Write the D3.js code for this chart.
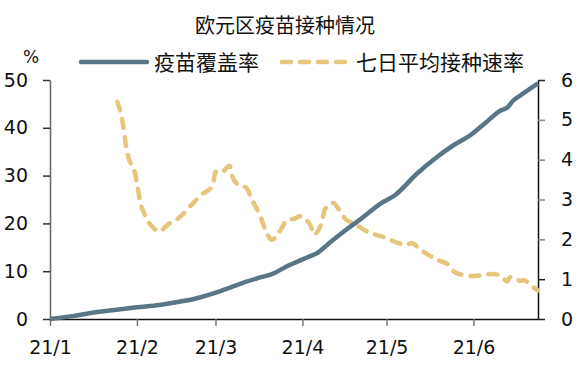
<!DOCTYPE html>
<html><head><meta charset="utf-8">
<script src="https://cdn.jsdelivr.net/npm/d3@7"></script>
<style>
body{margin:0;background:#fff;}
svg{display:block;}
text{font-family:"DejaVu Sans",Verdana,sans-serif;}
.cjk{font-family:"Noto Sans CJK SC","Noto Sans",sans-serif;}
</style></head>
<body><svg id="c" width="577" height="367"></svg>
<script>
const title = "欧元区疫苗接种情况";
const seriesNames = ["疫苗覆盖率", "七日平均接种速率"];
const xTickDates = ["2021-01-01","2021-02-01","2021-03-01","2021-04-01","2021-05-01","2021-06-01"];
const xTickLabels = ["21/1","21/2","21/3","21/4","21/5","21/6"];
const leftTicks = [0,10,20,30,40,50];
const rightTicks = [0,1,2,3,4,5,6];

const coverageDates = ["2021-01-01","2021-01-09","2021-01-16","2021-01-24","2021-02-01","2021-02-09","2021-02-16","2021-02-22","2021-02-28","2021-03-06","2021-03-12","2021-03-17","2021-03-22","2021-03-26","2021-03-31","2021-04-04","2021-04-06","2021-04-10","2021-04-16","2021-04-22","2021-04-29","2021-05-04","2021-05-12","2021-05-19","2021-05-25","2021-05-31","2021-06-05","2021-06-11","2021-06-13","2021-06-15","2021-06-18","2021-06-24"];
const coverageValues = [0,0.6,1.3,1.9,2.45,2.95,3.6,4.3,5.3,6.5,7.8,8.7,9.6,10.9,12.2,13.2,13.7,15.6,18.4,21.0,24.2,25.9,30.5,33.9,36.4,38.5,40.9,43.7,44.2,45.6,46.9,49.3];

const speedDates = ["2021-01-25","2021-01-27","2021-01-28","2021-01-29","2021-01-31","2021-02-01","2021-02-02","2021-02-04","2021-02-07","2021-02-09","2021-02-12","2021-02-16","2021-02-20","2021-02-24","2021-02-28","2021-03-01","2021-03-03","2021-03-06","2021-03-07","2021-03-09","2021-03-12","2021-03-14","2021-03-17","2021-03-19","2021-03-21","2021-03-25","2021-03-26","2021-03-30","2021-03-31","2021-04-04","2021-04-05","2021-04-08","2021-04-09","2021-04-12","2021-04-14","2021-04-16","2021-04-20","2021-04-24","2021-04-27","2021-05-01","2021-05-05","2021-05-08","2021-05-10","2021-05-13","2021-05-17","2021-05-19","2021-05-23","2021-05-25","2021-05-28","2021-06-01","2021-06-05","2021-06-08","2021-06-11","2021-06-13","2021-06-14","2021-06-18","2021-06-19","2021-06-21","2021-06-24"];
const speedValues = [5.45,4.9,4.4,4.05,3.75,3.42,3.0,2.58,2.28,2.2,2.37,2.54,2.83,3.12,3.35,3.69,3.67,3.85,3.58,3.38,3.29,3.0,2.58,2.2,1.99,2.33,2.45,2.54,2.58,2.33,2.12,2.45,2.75,2.91,2.75,2.54,2.37,2.2,2.12,2.03,1.91,1.86,1.91,1.74,1.57,1.49,1.36,1.19,1.11,1.08,1.11,1.13,1.07,0.94,1.05,0.96,0.98,0.86,0.72];

const parse = d3.utcParse("%Y-%m-%d");
const svg = d3.select("#c");
const L = 50, R = 538, T = 80, B = 319;
const blue = "#5a7686", tan = "#e5c67c";

const x = d3.scaleUtc().domain([parse("2021-01-01"), parse("2021-06-24")]).range([L, R]);
const yL = d3.scaleLinear().domain([0,50]).range([B, T]);
const yR = d3.scaleLinear().domain([0,6]).range([B, T]);

// title
svg.append("text").attr("class","cjk").attr("x",285).attr("y",33).attr("text-anchor","middle")
  .attr("font-size",20).attr("fill","#111").text(title);
// legend
svg.append("text").attr("x",31).attr("y",63).attr("text-anchor","middle").attr("font-size",17).attr("fill","#111").text("%");
svg.append("line").attr("x1",81).attr("x2",147).attr("y1",62).attr("y2",62).attr("stroke",blue).attr("stroke-width",4.5).attr("stroke-linecap","round");
svg.append("text").attr("class","cjk").attr("x",154).attr("y",70).attr("font-size",21).attr("fill","#111").text(seriesNames[0]);
svg.append("line").attr("x1",282).attr("x2",349).attr("y1",62).attr("y2",62).attr("stroke",tan).attr("stroke-width",4.5).attr("stroke-linecap","round").attr("stroke-dasharray","9,9");
svg.append("text").attr("class","cjk").attr("x",356).attr("y",70).attr("font-size",21).attr("fill","#111").text(seriesNames[1]);

// axes
const fs = 19;
const fmt = d3.format("d");
const gx = svg.append("g").attr("transform",`translate(0,${B})`)
  .call(d3.axisBottom(x).tickValues(xTickDates.map(parse)).tickFormat((d,i)=>xTickLabels[i]).tickSize(7).tickSizeOuter(0).tickPadding(15));
gx.select(".domain").attr("stroke","#111").attr("stroke-width",1.5);
gx.selectAll(".tick line").attr("stroke","#777").attr("stroke-width",1.5);
gx.selectAll("text").attr("font-size",fs).attr("fill","#111").attr("font-family","DejaVu Sans, sans-serif");

const gl = svg.append("g").attr("transform",`translate(${L},0)`)
  .call(d3.axisLeft(yL).tickValues(leftTicks).tickFormat(fmt).tickSize(7).tickSizeOuter(0).tickPadding(15));
gl.select(".domain").attr("stroke","#666").attr("stroke-width",1.5);
gl.selectAll(".tick line").attr("stroke","#333").attr("stroke-width",1.5);
gl.selectAll("text").attr("font-size",fs).attr("fill","#111").attr("font-family","DejaVu Sans, sans-serif");

const gr = svg.append("g").attr("transform",`translate(${R},0)`)
  .call(d3.axisRight(yR).tickValues(rightTicks).tickFormat(fmt).tickSize(7).tickSizeOuter(0).tickPadding(16));
gr.select(".domain").attr("stroke","#111").attr("stroke-width",1.5);
gr.selectAll(".tick line").attr("stroke",d=> (d===0||d===1||d===6)?"#222":"#888").attr("stroke-width",1.5);
gr.selectAll("text").attr("font-size",fs).attr("fill","#111").attr("font-family","DejaVu Sans, sans-serif");

// lines
const cov = coverageDates.map((d,i)=>({d:parse(d), v:coverageValues[i]}));
const spd = speedDates.map((d,i)=>({d:parse(d), v:speedValues[i]}));
svg.append("path").datum(spd).attr("fill","none").attr("stroke",tan).attr("stroke-width",4.5)
  .attr("stroke-linecap","round").attr("stroke-dasharray","9,9")
  .attr("d", d3.line().x(p=>x(p.d)).y(p=>yR(p.v)).curve(d3.curveMonotoneX));
svg.append("path").datum(cov).attr("fill","none").attr("stroke",blue).attr("stroke-width",4.5)
  .attr("stroke-linejoin","round")
  .attr("d", d3.line().x(p=>x(p.d)).y(p=>yL(p.v)).curve(d3.curveMonotoneX));
</script></body></html>
